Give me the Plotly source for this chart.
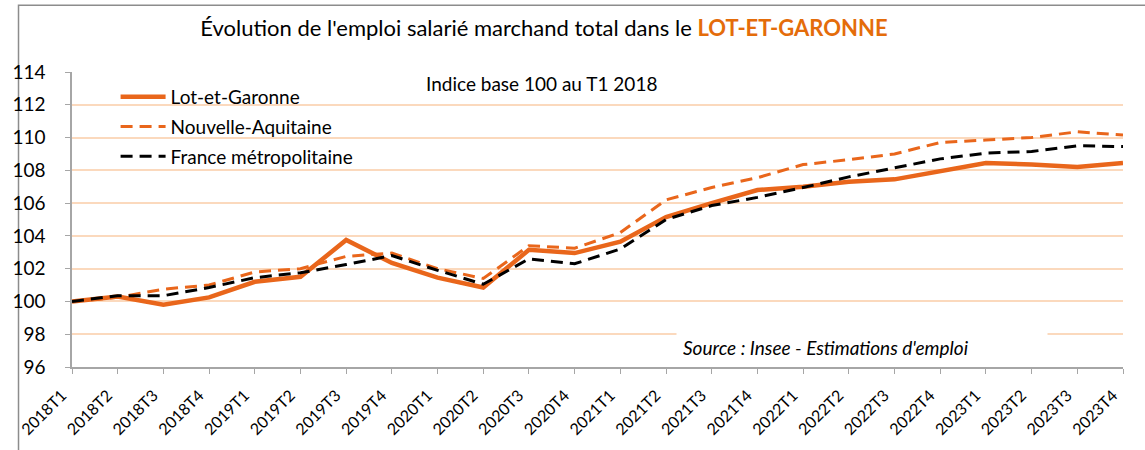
import plotly.graph_objects as go

quarters = [f"{y}T{q}" for y in range(2018, 2024) for q in range(1, 5)]

lot_et_garonne = [100.0, 100.3, 99.8, 100.25, 101.2, 101.5, 103.75, 102.35,
                  101.45, 100.85, 103.15, 102.95, 103.65, 105.15, 106.0, 106.8,
                  107.0, 107.3, 107.45, 107.95, 108.45, 108.35, 108.2, 108.45]
nouvelle_aquitaine = [100.0, 100.25, 100.75, 101.0, 101.8, 102.0, 102.75, 102.95,
                      102.0, 101.4, 103.4, 103.25, 104.2, 106.2, 106.95, 107.55,
                      108.35, 108.65, 109.0, 109.7, 109.85, 110.0, 110.35, 110.15]
france_metro = [100.0, 100.35, 100.35, 100.85, 101.45, 101.75, 102.25, 102.8,
                101.9, 101.05, 102.6, 102.3, 103.2, 105.0, 105.85, 106.35,
                106.95, 107.6, 108.15, 108.7, 109.05, 109.15, 109.5, 109.45]

series_names = ["Lot-et-Garonne", "Nouvelle-Aquitaine", "France métropolitaine"]
y_ticks = list(range(96, 115, 2))

ORANGE = "#E9661B"
FONT = "Lato"

fig = go.Figure()
fig.add_trace(go.Scatter(x=quarters, y=lot_et_garonne, name=series_names[0], mode="lines",
                         line=dict(color=ORANGE, width=4.5), legendgroup="a"))
fig.add_trace(go.Scatter(x=quarters, y=nouvelle_aquitaine, name=series_names[1], mode="lines",
                         line=dict(color=ORANGE, width=3, dash="12px,7px"), legendgroup="b"))
fig.add_trace(go.Scatter(x=quarters, y=france_metro, name=series_names[2], mode="lines",
                         line=dict(color="#000000", width=3, dash="12px,7px"), legendgroup="c"))

fig.update_layout(
    width=1145, height=450,
    margin=dict(l=62, r=22, t=72, b=78),
    paper_bgcolor="white", plot_bgcolor="white",
    font=dict(family=FONT, color="#000000"),
    title=dict(
        text="Évolution de l'emploi salarié marchand total dans le "
             "<b><span style='color:#E46C0A'>LOT-ET-GARONNE</span></b>",
        x=544 / 1145, xref="container", xanchor="center",
        y=1 - 28 / 450, yref="container", yanchor="middle",
        font=dict(family=FONT, size=22, color="#000000"),
    ),
    showlegend=True,
    legend=dict(
        x=(106 - 62) / 1061, y=(372 - 78) / 300, xanchor="left", yanchor="top",
        bgcolor="rgba(255,255,255,0)", font=dict(family=FONT, size=19),
        tracegroupgap=2, itemwidth=45,
    ),
    xaxis=dict(
        type="category", range=[0, 23],
        showgrid=False, showline=True, linecolor="#A6A6A6", linewidth=1.5,
        ticks="outside", ticklen=5, tickcolor="#A6A6A6",
        tickangle=-45, tickfont=dict(family=FONT, size=16, color="#000000"),
        ticklabelshift=-10, ticklabelstandoff=6,
        zeroline=False, fixedrange=True,
    ),
    yaxis=dict(
        range=[96, 114], tickvals=y_ticks,
        showgrid=True, gridcolor="#FBD9BD", gridwidth=1.5,
        showline=True, linecolor="#A6A6A6", linewidth=1.5,
        ticks="outside", ticklen=5, tickcolor="#A6A6A6",
        tickfont=dict(family=FONT, size=19, color="#000000"),
        ticklabelstandoff=16, zeroline=False, fixedrange=True,
    ),
    annotations=[
        dict(text="Indice base 100 au T1 2018", xref="paper", yref="paper",
             x=(536 - 62) / 1061, y=(372 - 84) / 300, xanchor="center", yanchor="middle",
             showarrow=False, font=dict(family=FONT, size=19, color="#000000")),
        dict(text="<i>Source : Insee - Estimations d'emploi</i>", xref="paper", yref="paper",
             x=(672 - 62) / 1061, y=(372 - 352) / 300, xanchor="left", yanchor="middle",
             width=358, align="left", borderpad=6, bgcolor="white",
             showarrow=False, font=dict(family=FONT, size=19, color="#000000")),
    ],
    shapes=[
        dict(type="rect", xref="paper", yref="paper",
             x0=(8 - 62) / 1061, x1=1.2, y0=-0.5, y1=(372 - 4) / 300,
             line=dict(color="#8C8C8C", width=1.5), fillcolor="rgba(0,0,0,0)", layer="below"),
    ],
)

fig.write_html("out.html", config={"displayModeBar": False},
               post_script="document.body.style.margin='0px';")
